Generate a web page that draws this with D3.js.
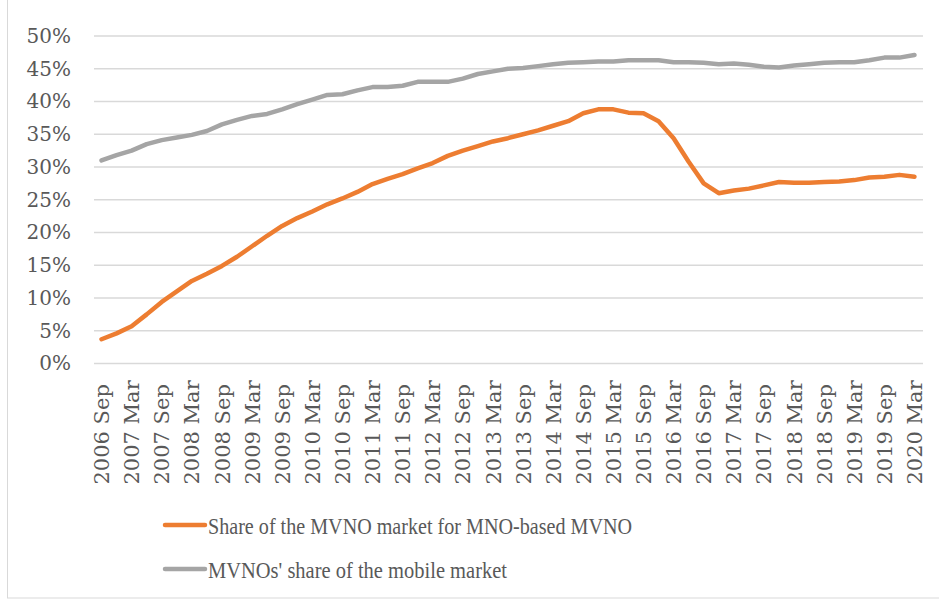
<!DOCTYPE html>
<html lang="en">
<head>
    <meta charset="UTF-8">
    <title>MVNO market share</title>
    <style>
        body {
            margin: 0;
            background: #fff;
        }

        svg {
            display: block;
        }

        .axis text {
            font-family: "DejaVu Serif", serif;
            fill: #595959;
        }

        .grid line {
            stroke: #d9d9d9;
            stroke-width: 1.3;
        }

        .legend text {
            font-family: "Liberation Serif", serif;
            font-size: 24px;
            fill: #595959;
        }
    </style>
</head>
<body>

<svg id="chart"></svg>

<script src="https://d3js.org/d3.v7.min.js"></script>
<script>
    // Quarterly categories, Sep 2006 - Mar 2020
    const quarters = [
        "2006 Sep", "2006 Dec",
        "2007 Mar", "2007 Jun", "2007 Sep", "2007 Dec",
        "2008 Mar", "2008 Jun", "2008 Sep", "2008 Dec",
        "2009 Mar", "2009 Jun", "2009 Sep", "2009 Dec",
        "2010 Mar", "2010 Jun", "2010 Sep", "2010 Dec",
        "2011 Mar", "2011 Jun", "2011 Sep", "2011 Dec",
        "2012 Mar", "2012 Jun", "2012 Sep", "2012 Dec",
        "2013 Mar", "2013 Jun", "2013 Sep", "2013 Dec",
        "2014 Mar", "2014 Jun", "2014 Sep", "2014 Dec",
        "2015 Mar", "2015 Jun", "2015 Sep", "2015 Dec",
        "2016 Mar", "2016 Jun", "2016 Sep", "2016 Dec",
        "2017 Mar", "2017 Jun", "2017 Sep", "2017 Dec",
        "2018 Mar", "2018 Jun", "2018 Sep", "2018 Dec",
        "2019 Mar", "2019 Jun", "2019 Sep", "2019 Dec",
        "2020 Mar"
    ];

    // Share of the MVNO market for MNO-based MVNO (%)
    const mnoBasedShare = [
        3.7, 4.6, 5.7, 7.5, 9.4, 11.0, 12.6, 13.7, 14.9, 16.3,
        17.9, 19.5, 21.0, 22.2, 23.2, 24.3, 25.2, 26.2, 27.4, 28.2,
        28.9, 29.8, 30.6, 31.7, 32.5, 33.2, 33.9, 34.4, 35.0, 35.6,
        36.3, 37.0, 38.2, 38.8, 38.8, 38.3, 38.2, 37.0, 34.4, 30.8,
        27.5, 26.0, 26.4, 26.7, 27.2, 27.7, 27.6, 27.6, 27.7, 27.8,
        28.0, 28.4, 28.5, 28.8, 28.5
    ];

    // MVNOs' share of the mobile market (%)
    const mvnoShare = [
        31.0, 31.8, 32.5, 33.5, 34.1, 34.5, 34.9, 35.5, 36.5, 37.2,
        37.8, 38.1, 38.8, 39.6, 40.3, 41.0, 41.1, 41.7, 42.2, 42.2,
        42.4, 43.0, 43.0, 43.0, 43.5, 44.2, 44.6, 45.0, 45.1, 45.4,
        45.7, 45.9, 46.0, 46.1, 46.1, 46.3, 46.3, 46.3, 46.0, 46.0,
        45.9, 45.7, 45.8, 45.6, 45.3, 45.2, 45.5, 45.7, 45.9, 46.0,
        46.0, 46.3, 46.7, 46.7, 47.1
    ];

    const yTicks = [0, 5, 10, 15, 20, 25, 30, 35, 40, 45, 50];

    const seriesNames = [
        "Share of the MVNO market for MNO-based MVNO",
        "MVNOs' share of the mobile market"
    ];
    const seriesColors = ["#ed7d31", "#a5a5a5"];

    const width = 939;
    const height = 601;
    const margin = { top: 36, right: 16, bottom: 238, left: 94 };

    const svg = d3.select("#chart")
        .attr("width", width)
        .attr("height", height);

    // chart border
    svg.append("rect")
        .attr("x", 7.5)
        .attr("y", -5)
        .attr("width", width)
        .attr("height", 603)
        .attr("fill", "none")
        .attr("stroke", "#d9d9d9");

    const x = d3.scaleBand()
        .domain(quarters)
        .range([margin.left, width - margin.right - 1]);

    const y = d3.scaleLinear()
        .domain([0, 50])
        .range([height - margin.bottom + 0.5, margin.top]);

    // gridlines
    svg.append("g")
        .attr("class", "grid")
        .selectAll("line")
        .data(yTicks)
        .join("line")
        .attr("x1", margin.left)
        .attr("x2", width - margin.right)
        .attr("y1", d => y(d))
        .attr("y2", d => y(d));

    // y axis labels
    const yAxis = svg.append("g")
        .attr("class", "axis")
        .attr("font-family", "DejaVu Serif")
        .attr("transform", `translate(${margin.left - 23},0)`)
        .call(d3.axisLeft(y).tickValues(yTicks).tickSize(0).tickFormat(d => d + "%"));
    yAxis.select(".domain").remove();
    yAxis.selectAll("text")
        .attr("x", 0)
        .style("font-family", "'DejaVu Serif', serif")
        .style("font-size", "20px")
        .style("text-anchor", "end");

    // x axis labels (every other quarter)
    const xAxis = svg.append("g")
        .attr("class", "axis")
        .attr("font-family", "DejaVu Serif")
        .attr("transform", `translate(0,${y(0)})`)
        .call(d3.axisBottom(x)
            .tickValues(quarters.filter((d, i) => i % 2 === 0))
            .tickSize(0));
    xAxis.select(".domain").remove();
    xAxis.selectAll("text")
        .style("font-family", "'DejaVu Serif', serif")
        .style("font-size", "21px")
        .style("text-anchor", "start")
        .attr("transform", "rotate(-90)")
        .attr("x", -121)
        .attr("y", 0)
        .attr("dy", "0.36em");

    // lines
    const line = d3.line()
        .x((d, i) => x(quarters[i]) + x.bandwidth() / 2)
        .y(d => y(d));

    [mvnoShare, mnoBasedShare].forEach((series, k) => {
        svg.append("path")
            .datum(series)
            .attr("fill", "none")
            .attr("stroke", k === 0 ? seriesColors[1] : seriesColors[0])
            .attr("stroke-width", 4.5)
            .attr("stroke-linejoin", "round")
            .attr("stroke-linecap", "round")
            .attr("d", line);
    });

    // legend
    const legend = svg.append("g")
        .attr("class", "legend")
        .selectAll("g")
        .data(seriesNames)
        .join("g")
        .attr("transform", (d, i) => `translate(165,${525 + i * 44})`);

    legend.append("line")
        .attr("x1", 0)
        .attr("x2", 40)
        .attr("stroke", (d, i) => seriesColors[i])
        .attr("stroke-width", 4.5)
        .attr("stroke-linecap", "round");

    const legendWidths = [424, 299];
    legend.append("text")
        .attr("x", 43)
        .attr("y", 9)
        .attr("textLength", (d, i) => legendWidths[i])
        .attr("lengthAdjust", "spacingAndGlyphs")
        .text(d => d);
</script>

</body>
</html>
